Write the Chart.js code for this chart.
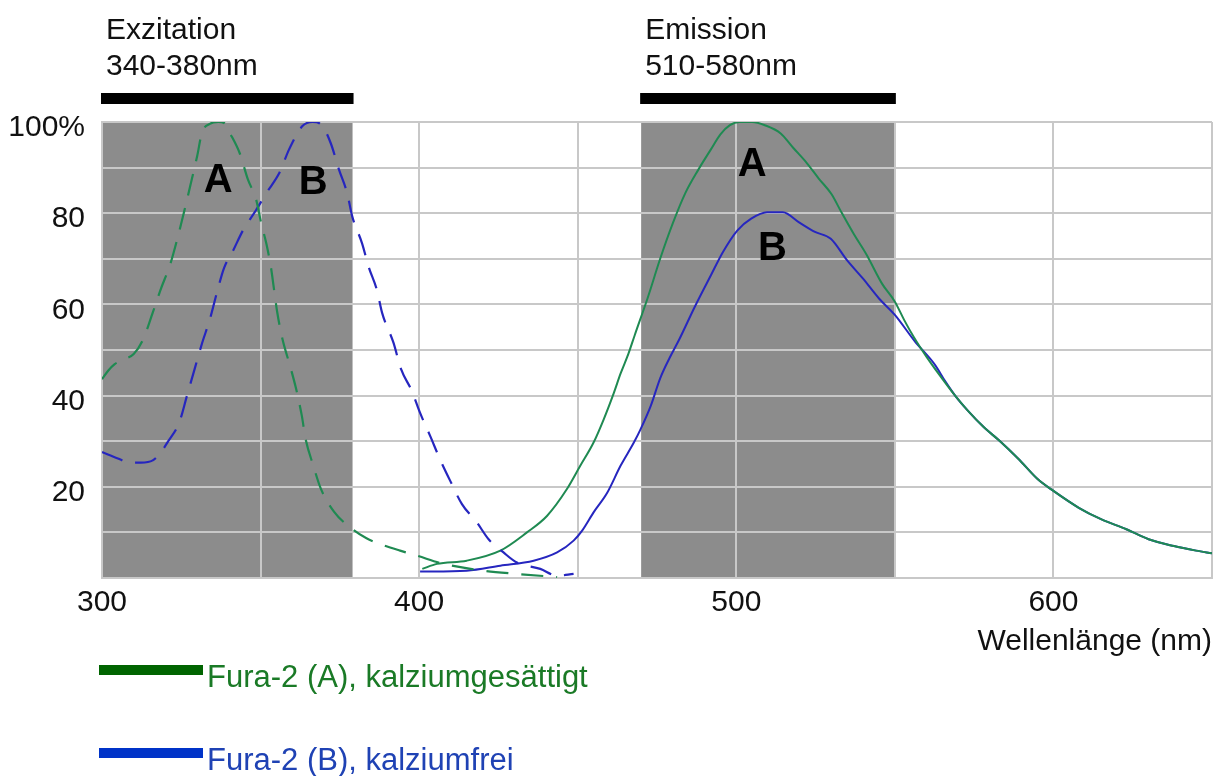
<!DOCTYPE html>
<html>
<head>
<meta charset="utf-8">
<title>Fura-2 Spektren</title>
<script src="https://cdn.jsdelivr.net/npm/chart.js@4.4.0/dist/chart.umd.min.js"></script>
<style>
  html, body { margin: 0; padding: 0; background: #fff; }
  #wrap { width: 1223px; height: 776px; }
</style>
</head>
<body>
<div id="wrap"><canvas id="chart" width="1223" height="776"></canvas></div>
<script>
// MARK: - Daten
const exWavelengthA = [300, 302, 304, 307, 310, 313, 316, 318.4, 321.6, 323.6, 326.3, 328.3, 330, 331.5, 334, 336.7, 338.5, 340.3, 343.4, 346, 348.6, 350.2, 351.8, 353.3, 354.2, 355.2, 356.9, 359.3, 361.2, 363, 364.2, 366.6, 369, 373.2, 378.6, 383.4, 388.3, 394, 399.3, 407.7, 420.3, 430.8, 443.5];
const exValuesA = [43.6, 45.5, 46.9, 48, 49.1, 52.4, 58.2, 63.1, 69, 74, 81.5, 87.4, 92.5, 97.6, 99.6, 100, 99.8, 97.6, 93.2, 87.4, 83, 77.8, 73.4, 68, 63.5, 58.5, 52.4, 46.5, 41.5, 35.6, 30.5, 24.7, 19.6, 14.5, 10.9, 8.7, 7.3, 6, 4.9, 3.1, 1.6, 0.9, 0.2];

const exWavelengthB = [300, 305, 309, 312.3, 316, 318.5, 320.7, 324.4, 326.8, 329.2, 331.6, 334, 336.2, 338.5, 341.4, 344.5, 348.6, 351.8, 355.9, 359, 363.2, 366.4, 369, 372.1, 374.7, 377.3, 378.9, 382, 384.1, 386.7, 388.3, 391.9, 394.3, 397.7, 400.3, 403.5, 406.6, 409.8, 413.5, 418.2, 421.9, 426.6, 430.8, 438.2, 443.5, 448.7];
const exValuesB = [27.6, 26.2, 25.3, 25.3, 25.8, 27.5, 29.8, 34.2, 40, 45.8, 51.6, 56.7, 62.5, 68, 71.9, 76.3, 80.7, 84.4, 88.8, 94, 99.1, 100, 99.5, 95.4, 89.6, 84.4, 79.3, 73.4, 68.2, 63.1, 58.2, 51.6, 45.8, 41, 36.2, 31.1, 26, 21.3, 16.2, 12.2, 8.5, 5.6, 3.4, 2, 0.5, 0.9];

const emWavelengthA = [401, 405.6, 415, 425.6, 434, 440.3, 446.6, 450.8, 455, 458.2, 461.4, 463.5, 466, 468, 472, 476, 480, 484, 488, 492, 495, 498, 501, 505, 509, 514, 518, 522, 526, 530, 533, 537, 541, 546, 550, 553, 556, 560, 564, 569, 573, 578, 583, 589, 595, 600, 608, 615, 623, 630, 638, 645, 650];
const emValuesA = [2, 3.1, 3.8, 6, 10, 13.6, 19.5, 24.6, 29.7, 34.8, 40.6, 44.8, 49.2, 53.3, 61.3, 70, 77.8, 84.5, 89.5, 94, 97.3, 99.3, 100, 100, 99.3, 97.5, 94.3, 91.2, 87.6, 84.2, 80.4, 75.5, 71, 64.5, 60.6, 56.5, 52.8, 48.5, 44.6, 40, 36.7, 33.1, 30.1, 26.1, 21.7, 19.1, 15.4, 12.9, 10.7, 8.5, 7, 6, 5.4];

const emWavelengthB = [400.3, 415, 425.6, 436.1, 443.5, 448.7, 451.4, 455, 459.3, 463.5, 467.7, 469.8, 473, 476, 479, 482, 487, 492, 495.8, 500.3, 504.7, 509.7, 514.7, 519.8, 524.8, 529.8, 534.9, 539.9, 545, 550, 556.3, 562.6, 566, 569, 573, 578, 583, 589, 595, 600, 608, 615, 623, 630, 638, 645, 650];
const emValuesB = [1.4, 1.6, 2.7, 3.8, 5.6, 8.2, 10.4, 14.4, 18.7, 24.6, 29.7, 32.6, 37.7, 43.8, 48.3, 52.3, 59.6, 66.4, 71.5, 76.2, 78.8, 80.2, 80.2, 78, 75.9, 74.4, 69.7, 65.7, 61.3, 57.7, 51.9, 46.8, 43, 40, 36.7, 33.1, 30.1, 26.1, 21.7, 19.1, 15.4, 12.9, 10.7, 8.5, 7, 6, 5.4];

const legendLabels = ['Fura-2 (A), kalziumgesättigt', 'Fura-2 (B), kalziumfrei'];

const xTickValues = [300, 400, 500, 600];
const xTickLabels = ['300', '400', '500', '600'];
const yTickValues = [20, 40, 60, 80, 100];
const yTickLabels = ['20', '40', '60', '80', '100%'];
const xAxisTitle = 'Wellenlänge (nm)';

// Filterbereiche (nm) und Beschriftung darüber
const bandRanges = [[300, 379], [470, 550]];
const bandTitles = [['Exzitation', '340-380nm'], ['Emission', '510-580nm']];

// Buchstaben an den Kurven (Datenkoordinaten)
const letterTexts = ['A', 'B', 'A', 'B'];
const letterX = [336.6, 366.6, 505, 511.4];
const letterY = [87.5, 87, 91, 72.6];

// MARK: - Stil
const FONT = '"Liberation Sans", Arial, sans-serif';
const GREEN_LINE = '#1f8a52';
const BLUE_LINE = '#2626bf';
const legendSwatch = ['#006400', '#0033c8'];
const legendText = ['#1a7a26', '#1f42b4'];

function toPoints(xs, ys) {
  return xs.map(function(x, i) { return { x: x, y: ys[i] }; });
}

const bandsPlugin = {
  id: 'bands',
  beforeDraw(chart) {
    const ctx = chart.ctx;
    const area = chart.chartArea;
    const xs = chart.scales.x;
    ctx.save();
    ctx.fillStyle = '#ffffff';
    ctx.fillRect(0, 0, chart.width, chart.height);
    bandRanges.forEach(function(r, i) {
      const x0 = xs.getPixelForValue(r[0]);
      const x1 = xs.getPixelForValue(r[1]);
      ctx.fillStyle = '#8c8c8c';
      ctx.fillRect(x0, area.top, x1 - x0, area.bottom - area.top);
      // schwarzer Balken
      ctx.fillStyle = '#000000';
      ctx.fillRect(x0 - 1, area.top - 29, x1 - x0 + 2, 11);
      // Beschriftung
      ctx.fillStyle = '#111111';
      ctx.font = '30px ' + FONT;
      ctx.textBaseline = 'alphabetic';
      ctx.textAlign = 'left';
      ctx.fillText(bandTitles[i][0], x0 + 4, area.top - 83);
      ctx.fillText(bandTitles[i][1], x0 + 4, area.top - 47);
    });
    ctx.restore();
  },
  afterDatasetsDraw(chart) {
    const ctx = chart.ctx;
    const xs = chart.scales.x;
    const ys = chart.scales.y;
    ctx.save();
    ctx.fillStyle = '#000000';
    ctx.font = 'bold 40px ' + FONT;
    ctx.textAlign = 'center';
    ctx.textBaseline = 'middle';
    letterTexts.forEach(function(t, i) {
      ctx.fillText(t, xs.getPixelForValue(letterX[i]), ys.getPixelForValue(letterY[i]) + 2);
    });
    ctx.restore();
  },
  afterDraw(chart) {
    const ctx = chart.ctx;
    const area = chart.chartArea;
    ctx.save();
    ctx.font = '31px ' + FONT;
    ctx.textBaseline = 'alphabetic';
    ctx.textAlign = 'left';
    legendLabels.forEach(function(label, i) {
      const top = area.bottom + 87 + i * 83;
      ctx.fillStyle = legendSwatch[i];
      ctx.fillRect(area.left - 3, top, 104, 10);
      ctx.fillStyle = legendText[i];
      ctx.fillText(label, area.left + 105, top + 22);
    });
    ctx.restore();
  }
};

const ctx = document.getElementById('chart').getContext('2d');
new Chart(ctx, {
  type: 'line',
  data: {
    datasets: [
      {
        label: legendLabels[0] + ' Exzitation',
        data: toPoints(exWavelengthA, exValuesA),
        borderColor: GREEN_LINE,
        borderWidth: 2.2,
        borderDash: [22, 13],
        pointRadius: 0,
        fill: false,
        cubicInterpolationMode: 'monotone'
      },
      {
        label: legendLabels[1] + ' Exzitation',
        data: toPoints(exWavelengthB, exValuesB),
        borderColor: BLUE_LINE,
        borderWidth: 2.2,
        borderDash: [22, 13],
        pointRadius: 0,
        fill: false,
        cubicInterpolationMode: 'monotone'
      },
      {
        label: legendLabels[0] + ' Emission',
        data: toPoints(emWavelengthA, emValuesA),
        borderColor: GREEN_LINE,
        borderWidth: 2,
        pointRadius: 0,
        fill: false,
        cubicInterpolationMode: 'monotone'
      },
      {
        label: legendLabels[1] + ' Emission',
        data: toPoints(emWavelengthB, emValuesB),
        borderColor: BLUE_LINE,
        borderWidth: 2,
        pointRadius: 0,
        fill: false,
        cubicInterpolationMode: 'monotone'
      }
    ]
  },
  options: {
    responsive: false,
    animation: false,
    devicePixelRatio: 1,
    layout: { padding: { left: 0, top: 122, right: 11, bottom: 116 } },
    plugins: {
      legend: { display: false },
      tooltip: { enabled: false }
    },
    scales: {
      x: {
        type: 'linear',
        min: 300,
        max: 650,
        afterFit: function(scale) { scale.height = 82; },
        ticks: {
          stepSize: 50,
          padding: 7,
          color: '#111111',
          font: { family: FONT, size: 30, lineHeight: 1.2 },
          maxRotation: 0,
          autoSkip: false,
          callback: function(value) {
            const i = xTickValues.indexOf(value);
            return i >= 0 ? xTickLabels[i] : '';
          }
        },
        grid: { color: '#c8c8c8', lineWidth: 2, drawTicks: false },
        border: { color: '#c8c8c8', width: 2 },
        title: {
          display: true,
          text: xAxisTitle,
          align: 'end',
          color: '#111111',
          padding: 0,
          font: { family: FONT, size: 30, lineHeight: 1.2 }
        }
      },
      y: {
        min: 0,
        max: 100,
        afterFit: function(scale) { scale.width = 102; },
        ticks: {
          stepSize: 10,
          padding: 17,
          labelOffset: 6,
          color: '#111111',
          font: { family: FONT, size: 30, lineHeight: 1.2 },
          autoSkip: false,
          callback: function(value) {
            const i = yTickValues.indexOf(value);
            return i >= 0 ? yTickLabels[i] : '';
          }
        },
        grid: { color: '#c8c8c8', lineWidth: 2, drawTicks: false },
        border: { color: '#c8c8c8', width: 2 }
      }
    }
  },
  plugins: [bandsPlugin]
});
</script>
</body>
</html>
